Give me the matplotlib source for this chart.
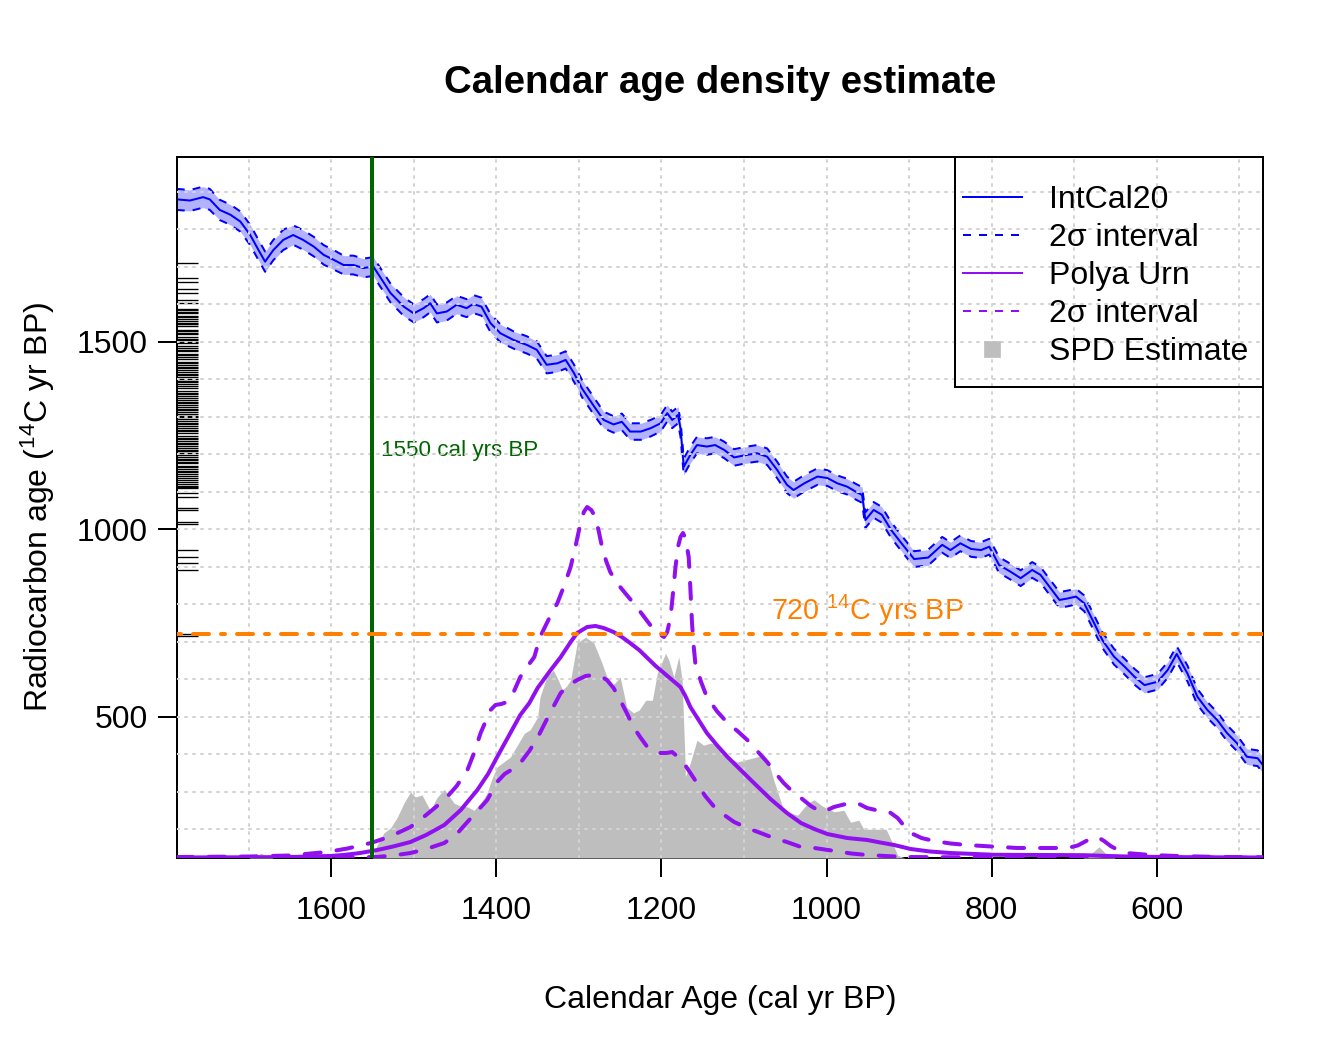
import numpy as np
import matplotlib
matplotlib.use("Agg")
import matplotlib.pyplot as plt
from matplotlib.lines import Line2D
from matplotlib.patches import Rectangle
from matplotlib.collections import LineCollection

plt.rcParams['font.family'] = ['Liberation Sans', 'DejaVu Sans']
plt.rcParams['mathtext.fontset'] = 'custom'
plt.rcParams['mathtext.rm'] = 'Liberation Sans'
plt.rcParams['mathtext.it'] = 'Liberation Sans:italic'
plt.rcParams['mathtext.bf'] = 'Liberation Sans:bold'

# IntCal20 curve (cal yr BP, 14C yr BP, 2 sigma half width)
intcal_cal = [1787, 1771, 1755, 1747, 1735, 1722, 1710, 1698, 1688, 1680,
              1670, 1658, 1646, 1634, 1621, 1609, 1597, 1585, 1573, 1561,
              1549, 1541, 1528, 1512, 1500, 1488, 1480, 1472, 1460, 1448,
              1436, 1428, 1418, 1407, 1395, 1379, 1363, 1351, 1339, 1326,
              1316, 1306, 1296, 1280, 1270, 1258, 1248, 1238, 1225, 1213,
              1201, 1193, 1187, 1180, 1177, 1173, 1165, 1157, 1145, 1135,
              1124, 1112, 1096, 1084, 1072, 1060, 1048, 1040, 1027, 1011,
              999, 987, 975, 965, 957, 953, 943, 933, 922, 910,
              894, 877, 860, 850, 838, 825, 813, 803, 791, 777,
              765, 751, 741, 730, 718, 708, 698, 688, 676, 666,
              652, 639, 627, 615, 599, 587, 576, 563, 551, 539,
              527, 515, 503, 491, 478, 470]
intcal_c14 = [1880, 1877, 1886, 1880, 1852, 1839, 1821, 1785, 1745, 1714,
              1745, 1772, 1785, 1772, 1754, 1732, 1719, 1705, 1705, 1697,
              1701, 1674, 1630, 1594, 1576, 1590, 1603, 1576, 1581, 1599,
              1590, 1601, 1594, 1550, 1523, 1505, 1492, 1479, 1439, 1443,
              1452, 1417, 1375, 1323, 1292, 1280, 1287, 1261, 1261, 1270,
              1283, 1310, 1292, 1305, 1270, 1167, 1199, 1225, 1221, 1225,
              1212, 1192, 1199, 1203, 1194, 1159, 1119, 1105, 1123, 1141,
              1137, 1123, 1114, 1101, 1092, 1025, 1052, 1039, 999, 965,
              921, 925, 959, 945, 963, 948, 945, 954, 905, 887,
              870, 892, 879, 847, 812, 816, 821, 803, 750, 705,
              661, 634, 607, 585, 594, 625, 668, 616, 554, 519,
              492, 457, 430, 394, 390, 367]
intcal_2sig = [28, 28, 28, 28, 27, 27, 27, 27, 27, 27,
               27, 27, 26, 26, 26, 26, 26, 25, 25, 25,
               25, 25, 25, 25, 24, 24, 24, 24, 24, 24,
               24, 24, 24, 24, 24, 23, 23, 23, 23, 23,
               23, 23, 23, 23, 22, 22, 22, 22, 22, 22,
               22, 22, 22, 22, 22, 22, 22, 22, 22, 22,
               22, 22, 22, 22, 22, 22, 22, 22, 22, 22,
               21, 21, 21, 21, 21, 21, 21, 21, 21, 21,
               21, 21, 21, 21, 21, 21, 21, 21, 21, 21,
               21, 21, 21, 21, 21, 21, 21, 21, 21, 21,
               21, 21, 21, 21, 21, 21, 21, 21, 21, 21,
               21, 21, 21, 21, 21, 21]

# observed radiocarbon determinations (rug)
rug_c14 = [1710, 1670, 1659, 1640, 1630, 1612, 1603, 1589, 1585, 1581,
           1576, 1570, 1566, 1562, 1555, 1551, 1547, 1542, 1533, 1529,
           1524, 1520, 1514, 1509, 1505, 1501, 1496, 1488, 1484, 1479,
           1475, 1469, 1465, 1461, 1455, 1447, 1443, 1438, 1434, 1430,
           1424, 1419, 1415, 1411, 1406, 1401, 1397, 1392, 1387, 1383,
           1377, 1369, 1364, 1360, 1355, 1351, 1346, 1341, 1337, 1332,
           1327, 1322, 1318, 1313, 1309, 1303, 1299, 1294, 1290, 1285,
           1280, 1276, 1271, 1266, 1262, 1257, 1249, 1245, 1240, 1236,
           1231, 1227, 1222, 1217, 1212, 1208, 1203, 1199, 1194, 1189,
           1185, 1180, 1176, 1170, 1166, 1161, 1156, 1152, 1147, 1142,
           1137, 1133, 1127, 1122, 1117, 1114, 1110, 1097, 1087, 1056,
           1052, 1021, 1015, 945, 927, 910, 892, 722, 716]

# Polya Urn posterior density (x 1e-3 per cal yr)
mean_cal = [1787, 1750, 1700, 1650, 1601, 1585, 1565, 1544, 1525, 1504,
            1485, 1463, 1443, 1423, 1410, 1399, 1383, 1371, 1360, 1350,
            1335, 1322, 1310, 1302, 1290, 1280, 1270, 1258, 1248, 1238,
            1227, 1217, 1207, 1197, 1187, 1177, 1171, 1165, 1155, 1145,
            1133, 1120, 1104, 1088, 1068, 1048, 1031, 1015, 999, 975,
            951, 935, 918, 898, 875, 850, 797, 740, 688, 660,
            628, 580, 520, 472]
urn_mean = [0.007, 0.009, 0.010, 0.014, 0.029, 0.043, 0.071, 0.114, 0.164, 0.228,
            0.328, 0.471, 0.685, 0.970, 1.198, 1.441, 1.783, 2.040, 2.211, 2.425,
            2.668, 2.867, 3.081, 3.210, 3.295, 3.310, 3.281, 3.224, 3.153, 3.067,
            2.967, 2.853, 2.739, 2.639, 2.539, 2.439, 2.311, 2.154, 1.969, 1.783,
            1.612, 1.441, 1.255, 1.070, 0.842, 0.642, 0.499, 0.414, 0.342, 0.285,
            0.257, 0.221, 0.185, 0.128, 0.093, 0.071, 0.046, 0.043, 0.040, 0.029,
            0.019, 0.013, 0.009, 0.007]

hi_cal = [1787, 1750, 1700, 1650, 1605, 1580, 1552, 1530, 1504, 1485,
          1463, 1448, 1435, 1427, 1419, 1407, 1401, 1394, 1387, 1379,
          1371, 1362, 1354, 1347, 1337, 1326, 1318, 1310, 1304, 1298,
          1294, 1290, 1285, 1280, 1276, 1272, 1267, 1262, 1256, 1250,
          1240, 1230, 1220, 1209, 1201, 1197, 1193, 1189, 1186, 1183,
          1180, 1177, 1174, 1171, 1167, 1165, 1163, 1161, 1159, 1152,
          1145, 1133, 1120, 1108, 1096, 1084, 1072, 1062, 1052, 1042,
          1031, 1019, 1007, 999, 991, 977, 963, 951, 935, 924,
          914, 906, 898, 885, 870, 850, 830, 800, 769, 740,
          708, 696, 688, 680, 672, 664, 656, 647, 637, 608,
          570, 520, 472]
urn_hi = [0.014, 0.017, 0.021, 0.036, 0.086, 0.136, 0.214, 0.300, 0.442, 0.613,
          0.827, 1.027, 1.255, 1.498, 1.783, 2.111, 2.183, 2.197, 2.225, 2.368,
          2.582, 2.739, 2.867, 3.153, 3.395, 3.638, 3.880, 4.151, 4.451, 4.779,
          4.936, 5.007, 4.964, 4.864, 4.665, 4.437, 4.237, 4.080, 3.966, 3.866,
          3.723, 3.581, 3.424, 3.252, 3.181, 3.153, 3.224, 3.438, 3.780, 4.151,
          4.437, 4.579, 4.636, 4.565, 4.294, 3.852, 3.352, 3.024, 2.782, 2.511,
          2.297, 2.097, 1.926, 1.812, 1.683, 1.526, 1.369, 1.213, 1.070, 0.956,
          0.856, 0.742, 0.656, 0.685, 0.728, 0.770, 0.785, 0.713, 0.670, 0.656,
          0.571, 0.456, 0.357, 0.285, 0.243, 0.207, 0.185, 0.164, 0.143, 0.143,
          0.143, 0.178, 0.228, 0.278, 0.300, 0.243, 0.171, 0.114, 0.071, 0.043,
          0.026, 0.014, 0.010]

lo_cal = [1787, 1700, 1600, 1545, 1525, 1504, 1485, 1463, 1448, 1435,
          1423, 1411, 1399, 1390, 1380, 1371, 1360, 1349, 1335, 1322,
          1312, 1302, 1292, 1282, 1274, 1266, 1258, 1250, 1242, 1234,
          1225, 1217, 1209, 1201, 1194, 1187, 1180, 1173, 1165, 1157,
          1147, 1136, 1124, 1112, 1096, 1080, 1064, 1048, 1031, 1015,
          990, 970, 951, 925, 900, 800, 700, 600, 472]
urn_lo = [0.003, 0.004, 0.007, 0.014, 0.036, 0.071, 0.128, 0.214, 0.342, 0.514,
          0.670, 0.827, 1.084, 1.198, 1.270, 1.355, 1.526, 1.740, 2.068, 2.354,
          2.468, 2.539, 2.596, 2.611, 2.596, 2.539, 2.425, 2.254, 2.068, 1.869,
          1.712, 1.583, 1.526, 1.498, 1.498, 1.512, 1.441, 1.355, 1.213, 1.070,
          0.884, 0.728, 0.613, 0.514, 0.428, 0.357, 0.285, 0.228, 0.157, 0.143,
          0.100, 0.064, 0.043, 0.026, 0.014, 0.007, 0.006, 0.004, 0.003]

# SPD estimate (x 1e-3 per cal yr)
spd_cal = [1787, 1700, 1692, 1685, 1678, 1670, 1550, 1545, 1536, 1528,
           1520, 1512, 1504, 1498, 1490, 1480, 1472, 1463, 1451, 1443,
           1435, 1427, 1419, 1411, 1405, 1399, 1391, 1383, 1375, 1366,
           1359, 1350, 1347, 1339, 1331, 1325, 1320, 1315, 1310, 1302,
           1292, 1282, 1272, 1262, 1256, 1250, 1242, 1234, 1227, 1219,
           1211, 1205, 1195, 1191, 1185, 1179, 1175, 1172, 1171, 1165,
           1157, 1149, 1140, 1132, 1120, 1108, 1098, 1088, 1076, 1070,
           1064, 1052, 1043, 1035, 1023, 1015, 1005, 991, 979, 971,
           961, 955, 940, 928, 922, 914, 905, 690, 682, 670,
           660, 650, 472]
spd_dens = [0, 0, 0.03, 0.07, 0.03, 0, 0, 0.17, 0.36, 0.43,
            0.58, 0.78, 0.94, 0.87, 0.90, 0.68, 0.86, 0.98, 0.78, 0.74,
            0.73, 0.68, 0.78, 0.93, 1.14, 1.30, 1.37, 1.44, 1.60, 1.78,
            1.83, 2.01, 2.30, 2.58, 2.68, 2.54, 2.40, 2.45, 2.54, 3.07,
            3.15, 3.07, 2.78, 2.44, 2.50, 2.58, 2.15, 2.07, 2.11, 2.25,
            2.25, 2.64, 2.92, 2.82, 2.58, 2.87, 2.54, 1.57, 1.16, 1.36,
            1.68, 1.61, 1.64, 1.61, 1.44, 1.37, 1.40, 1.43, 1.47, 1.36,
            1.11, 0.68, 0.64, 0.61, 0.78, 0.83, 0.74, 0.66, 0.68, 0.51,
            0.54, 0.41, 0.41, 0.41, 0.26, 0.04, 0, 0, 0.04, 0.16,
            0.04, 0, 0]

cal_line = 1550
c14_line = 720

blue = '#0000FF'
purple = '#9010F0'
spd_grey = '#BEBEBE'
orange = '#FF8000'
dkgreen = '#006400'

W, H = 1344, 1056
L, R, T, B = 177, 1263, 157, 858
fig = plt.figure(figsize=(7, 5.5), dpi=192)
ax = fig.add_axes([L / W, 1 - B / H, (R - L) / W, (B - T) / H])
ax.set_xlim(1786.7, 471.5)
ax.set_ylim(124, 1993)

# calibration curve
cal = np.array(intcal_cal)
c14 = np.array(intcal_c14)
sig = np.array(intcal_2sig)
ax.fill_between(cal, c14 - sig, c14 + sig, color=(0, 0, 1, 0.3), lw=0)
ax.plot(cal, c14 + sig, color=blue, lw=0.75, ls=(0, (4, 4)))
ax.plot(cal, c14 - sig, color=blue, lw=0.75, ls=(0, (4, 4)))
ax.plot(cal, c14, color=blue, lw=0.75)

# rug of observations on the left axis
segs = [[(0, v), (0.0193, v)] for v in rug_c14]
ax.add_collection(LineCollection(segs, colors='black', linewidths=0.5,
                                 transform=ax.get_yaxis_transform()), autolim=False)

ax.set_xticks([1600, 1400, 1200, 1000, 800, 600])
ax.set_yticks([500, 1000, 1500])
ax.tick_params(direction='out', length=7.2, width=0.75, labelsize=12)
ax.tick_params(axis='x', pad=7)
ax.tick_params(axis='y', pad=3.75)
for s in ax.spines.values():
    s.set_linewidth(0.75)

ax.text(1540, 1210, '1550 cal yrs BP', color=dkgreen, fontsize=8.4, va='center', ha='left')
ax.text(950, 759, r'720 $^{14}$C yrs BP', color=orange, fontsize=10.8, ha='center', va='baseline')

# density axis
ax2 = ax.twinx()
ax2.fill_between(spd_cal, 0, spd_dens, color=spd_grey, lw=0, zorder=1)

# grid
for gx in range(500, 1800, 100):
    ax2.axvline(gx, color='#D3D3D3', lw=0.75, ls=(0, (1, 3)), dash_capstyle='round', zorder=1.5)
hsegs = [[(0, gy), (1, gy)] for gy in range(200, 2000, 100)]
ax2.add_collection(LineCollection(hsegs, colors='#D3D3D3', linewidths=0.75, linestyles=[(0, (1, 3))],
                                  capstyle='round', transform=ax.get_yaxis_transform(), zorder=1.5),
                   autolim=False)

ax2.plot(mean_cal, urn_mean, color=purple, lw=1.5, zorder=2)
ax2.plot(hi_cal, urn_hi, color=purple, lw=1.5, ls=(0, (4, 4)), dash_capstyle='round', zorder=2)
ax2.plot(lo_cal, urn_lo, color=purple, lw=1.5, ls=(0, (4, 4)), dash_capstyle='round', zorder=2)

ax2.axvline(cal_line, color=dkgreen, lw=1.5, zorder=3)
ax2.plot([0, 1], [c14_line, c14_line], transform=ax.get_yaxis_transform(), color=orange,
         lw=1.5, ls=(0, (1, 3, 4, 3)), dash_capstyle='round', zorder=3)

ax2.set_xlim(1786.7, 471.5)
ax2.set_ylim(0, 10)
ax2.set_yticks([])
for s in ax2.spines.values():
    s.set_visible(False)

# legend
handles = [Line2D([], [], color=blue, lw=0.75),
           Line2D([], [], color=blue, lw=0.75, ls=(0, (4, 4))),
           Line2D([], [], color=purple, lw=0.75),
           Line2D([], [], color=purple, lw=0.75, ls=(0, (4, 4))),
           Line2D([], [], color=spd_grey, marker='s', ls='none', markersize=5.5)]
labels = ['IntCal20', '2σ interval', 'Polya Urn', '2σ interval', 'SPD Estimate']
ax2.legend(handles, labels, loc='upper left', bbox_to_anchor=(962.7 / W, 1 - 185 / H),
           bbox_transform=fig.transFigure, frameon=False, borderpad=0, borderaxespad=0,
           handlelength=1.84, handletextpad=0.87, labelspacing=0.25, fontsize=12)
fig.patches.append(Rectangle((955 / W, 1 - 387 / H), 308 / W, 230 / H, transform=fig.transFigure,
                             fill=False, ec='black', lw=0.75))

fig.text(720 / W, 1 - 93 / H, 'Calendar age density estimate', fontsize=14.4, fontweight='bold',
         ha='center', va='baseline')
fig.text(720 / W, 1 - 1008 / H, 'Calendar Age (cal yr BP)', fontsize=12, ha='center', va='baseline')
fig.text(38 / W, 1 - 507 / H, r'Radiocarbon age ($^{14}$C yr BP)', fontsize=12, rotation=90,
         ha='center', va='center')

fig.savefig('out.png', dpi=192)
